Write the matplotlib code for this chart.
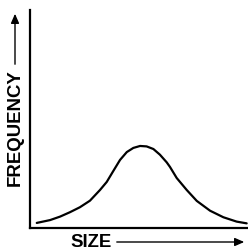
import matplotlib
matplotlib.use("Agg")
import matplotlib.pyplot as plt
from matplotlib.patches import FancyArrowPatch

# curve (fraction of axis length)
size = [0.031, 0.092, 0.138, 0.183, 0.229, 0.275, 0.321, 0.352, 0.382, 0.413,
        0.444, 0.474, 0.505, 0.535, 0.566, 0.596, 0.627, 0.642, 0.673, 0.719,
        0.765, 0.826, 0.887, 0.948, 0.994]
frequency = [0.021, 0.034, 0.050, 0.070, 0.093, 0.123, 0.172, 0.209, 0.259, 0.310,
             0.346, 0.365, 0.374, 0.372, 0.360, 0.334, 0.299, 0.278, 0.227, 0.172,
             0.122, 0.077, 0.047, 0.027, 0.019]

W, H = 248, 251
fig = plt.figure(figsize=(W / 100, H / 100), dpi=100)
ax = fig.add_axes([30 / W, (H - 228.5) / H, 218 / W, 218 / H])

ax.plot(size, frequency, color="black", lw=1.6, solid_capstyle="round",
        solid_joinstyle="round", clip_on=False)
ax.set_xlim(0, 1)
ax.set_ylim(0, 1)
ax.set_xticks([])
ax.set_yticks([])
for s in ["top", "right"]:
    ax.spines[s].set_visible(False)
for s in ["left", "bottom"]:
    ax.spines[s].set_linewidth(1.6)

# axis labels with arrows
font = dict(fontsize=13.4, family="Liberation Sans", weight="bold")
fig.text(15.5 / W, 1 - 128 / H, "FREQUENCY", rotation=90, ha="center", va="center", **font)
fig.text(70 / W, 1 - 243 / H, "SIZE", ha="left", va="center", **font)

arrow = dict(arrowstyle="-|>,head_length=0.8,head_width=0.35", color="black",
             lw=1.0, mutation_scale=7, transform=fig.transFigure)
fig.add_artist(FancyArrowPatch((15 / W, 1 - 68 / H), (15 / W, 1 - 12 / H), **arrow))
fig.add_artist(FancyArrowPatch((114 / W, 1 - 243 / H), (247 / W, 1 - 243 / H), **arrow))

fig.savefig("out.png", dpi=100)
